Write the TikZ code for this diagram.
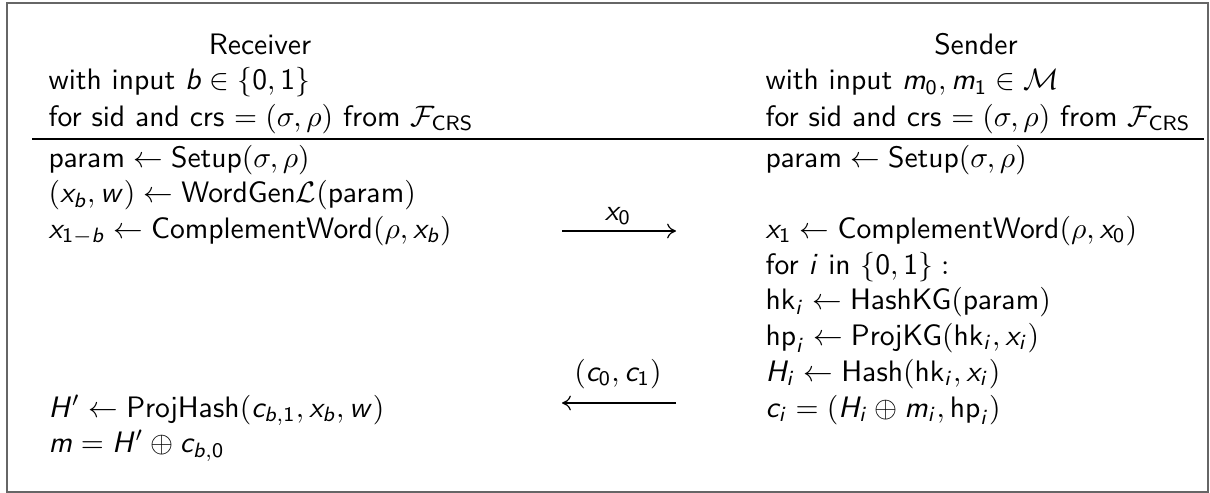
\documentclass[tikz,border=0pt]{standalone}
\usetikzlibrary{arrows.meta}
\DeclareSymbolFont{sfit}{OT1}{cmss}{m}{it}
\DeclareSymbolFont{sfup}{OT1}{cmss}{m}{n}
\DeclareMathSymbol{b}{\mathalpha}{sfit}{`b}
\DeclareMathSymbol{c}{\mathalpha}{sfit}{`c}
\DeclareMathSymbol{i}{\mathalpha}{sfit}{`i}
\DeclareMathSymbol{m}{\mathalpha}{sfit}{`m}
\DeclareMathSymbol{w}{\mathalpha}{sfit}{`w}
\DeclareMathSymbol{x}{\mathalpha}{sfit}{`x}
\DeclareMathSymbol{H}{\mathalpha}{sfit}{`H}
\DeclareMathSymbol{0}{\mathalpha}{sfup}{`0}
\DeclareMathSymbol{1}{\mathalpha}{sfup}{`1}
\tikzset{
  txt/.style={anchor=base west, inner sep=0pt, font=\sffamily},
  head/.style={anchor=base, inner sep=0pt, font=\sffamily},
  lbl/.style={anchor=base, inner sep=0pt, font=\sffamily},
  msg/.style={line width=0.4pt, -{To[length=3pt,width=5pt]}},
  frame/.style={draw=black!60, line width=0.8pt},
  rulel/.style={line width=0.45pt}
}
\begin{document}
\begin{tikzpicture}[x=0.338pt,y=-0.338pt]
\useasboundingbox (0,0) rectangle (1210,493);
\draw[frame] (7,3) rectangle (1208,492);
% headers
\node[head] (rh) at (260,54) {Receiver};
\node[txt] (ri) at (48,90) {with input $b\in\{0,1\}$};
\node[txt] (rc) at (48,126) {for sid and crs $=(\sigma,\rho)$ from $\mathcal{F}_{\mathsf{CRS}}$};
\node[head] (sh) at (976,54) {Sender};
\node[txt] (si) at (765,90) {with input $m_0,m_1\in\mathcal{M}$};
\node[txt] (sc) at (765,126) {for sid and crs $=(\sigma,\rho)$ from $\mathcal{F}_{\mathsf{CRS}}$};
\coordinate (rl) at (32,139);
\coordinate (rr) at (1204,139);
\draw[rulel] (rl) -- (rr);
% receiver body
\node[txt] (r0) at (48,167) {$\mathsf{param}\leftarrow\mathsf{Setup}(\sigma,\rho)$};
\node[txt] (r1) at (48,202.7) {$(x_b,w)\leftarrow\mathsf{WordGen}\mathcal{L}(\mathsf{param})$};
\node[txt] (r2) at (48,238.4) {$x_{1-b}\leftarrow\mathsf{ComplementWord}(\rho,x_b)$};
\node[txt] (r7) at (48,417) {$H'\leftarrow\mathsf{ProjHash}(c_{b,1},x_b,w)$};
\node[txt] (r8) at (48,452.6) {$m=H'\oplus c_{b,0}$};
% sender body
\node[txt] (s0) at (765,167) {$\mathsf{param}\leftarrow\mathsf{Setup}(\sigma,\rho)$};
\node[txt] (s2) at (765,238.4) {$x_1\leftarrow\mathsf{ComplementWord}(\rho,x_0)$};
\node[txt] (s3) at (765,274) {for $i$ in $\{0,1\}:$};
\node[txt] (s4) at (765,309.8) {$\mathsf{hk}_i\leftarrow\mathsf{HashKG}(\mathsf{param})$};
\node[txt] (s5) at (765,345.5) {$\mathsf{hp}_i\leftarrow\mathsf{ProjKG}(\mathsf{hk}_i,x_i)$};
\node[txt] (s6) at (765,381.2) {$H_i\leftarrow\mathsf{Hash}(\mathsf{hk}_i,x_i)$};
\node[txt] (s7) at (765,417) {$c_i=(H_i\oplus m_i,\mathsf{hp}_i)$};
% messages
\coordinate (a1l) at (562,231);
\coordinate (a1r) at (676,231);
\draw[msg] (a1l) -- (a1r);
\node[lbl] (l1) at (618,220) {$x_0$};
\coordinate (a2l) at (562,403);
\coordinate (a2r) at (676,403);
\draw[msg] (a2r) -- (a2l);
\node[lbl] (l2) at (618,381) {$(c_0,c_1)$};
\end{tikzpicture}
\end{document}
